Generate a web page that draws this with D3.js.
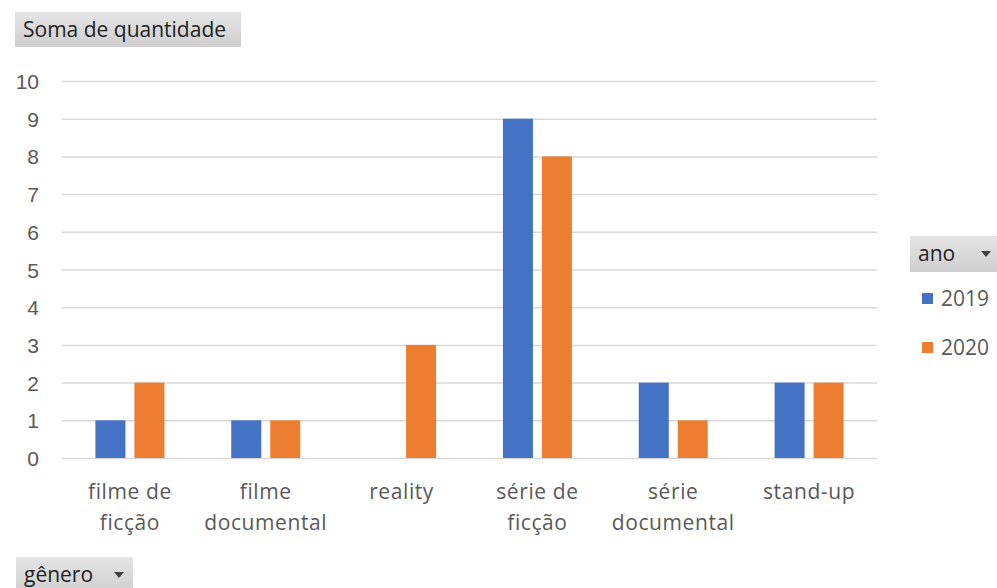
<!DOCTYPE html>
<html>
<head>
<meta charset="utf-8">
<script src="https://cdn.jsdelivr.net/npm/d3@7"></script>
<style>
	body { margin: 0; background: #fff; }
	svg { font-family: "Open Sans", "Noto Sans", sans-serif; }
	.tick text { fill: #595959; }
</style>
</head>
<body>
<svg id="chart"></svg>
<script>
// data
var categories = [['filme de', 'ficção'], ['filme', 'documental'], ['reality'], ['série de', 'ficção'], ['série', 'documental'], ['stand-up']];
var years = ['2019', '2020'];
var values2019 = [1, 1, null, 9, 2, 2];
var values2020 = [2, 1, 3, 8, 1, 2];
var yTicks = [0, 1, 2, 3, 4, 5, 6, 7, 8, 9, 10];

var colors = ['#4472C4', '#ED7D31'];

function makeChart() {
	let w = 997;
	let h = 588;

	let chart = d3.select('#chart')
		.attr('width', w)
		.attr('height', h);

	let defs = chart.append('defs');
	let grad = defs.append('linearGradient')
		.attr('id', 'btn')
		.attr('x1', 0).attr('y1', 0).attr('x2', 0).attr('y2', 1);
	grad.append('stop').attr('offset', '0%').attr('stop-color', '#e4e4e4');
	grad.append('stop').attr('offset', '100%').attr('stop-color', '#cfcfcf');

	let names = categories.map(c => c.join(' '));
	let series = [values2019, values2020];

	let x0 = d3.scaleBand()
		.domain(names)
		.range([62, 877]);

	let x1 = d3.scaleBand()
		.domain(years)
		.range([0, 69])
		.paddingInner(0.23);

	let y = d3.scaleLinear()
		.domain([0, 10])
		.range([458, 81]);

	// gridlines
	chart.append('g')
		.selectAll('line')
		.data(yTicks)
		.enter()
		.append('line')
		.attr('x1', 62)
		.attr('x2', 877)
		.attr('y1', d => y(d) + 0.5)
		.attr('y2', d => y(d) + 0.5)
		.style('stroke', '#d9d9d9')
		.style('stroke-width', 1.5);

	// y axis labels
	let yAxis = chart.append('g')
		.attr('transform', 'translate(39,0)')
		.call(d3.axisLeft(y).tickValues(yTicks).tickSize(0).tickPadding(0));
	yAxis.select('.domain').remove();
	yAxis.selectAll('text').style('font-size', '21px').attr('dy', '0.36em');

	// bars
	let groups = chart.append('g')
		.selectAll('g')
		.data(names)
		.enter()
		.append('g')
		.attr('transform', d => 'translate(' + (x0(d) + x0.bandwidth() / 2 - 34.5) + ',0)');

	groups.selectAll('rect')
		.data((d, i) => years.map((yr, j) => ({ yr: yr, v: series[j][i] })).filter(e => e.v != null))
		.enter()
		.append('rect')
		.attr('x', d => x1(d.yr))
		.attr('width', x1.bandwidth())
		.attr('y', d => y(d.v))
		.attr('height', d => y(0) - y(d.v))
		.style('fill', (d, i) => colors[years.indexOf(d.yr)]);

	// x labels
	let xl = chart.append('g')
		.selectAll('text')
		.data(categories)
		.enter()
		.append('text')
		.attr('x', (d, i) => x0(names[i]) + x0.bandwidth() / 2)
		.attr('y', 499)
		.style('text-anchor', 'middle')
		.style('font-size', '21px')
		.style('letter-spacing', '0.6px')
		.style('fill', '#595959');
	xl.selectAll('tspan')
		.data(d => d)
		.enter()
		.append('tspan')
		.attr('x', function () { return d3.select(this.parentNode).attr('x'); })
		.attr('dy', (d, i) => i === 0 ? 0 : 31)
		.text(d => d);

	// field buttons
	function button(x, y0, bw, bh, label, arrow) {
		let g = chart.append('g').attr('transform', 'translate(' + x + ',' + y0 + ')');
		g.append('rect')
			.attr('width', bw)
			.attr('height', bh)
			.style('fill', 'url(#btn)');
		g.append('text')
			.attr('x', 8)
			.attr('y', bh / 2 + 7)
			.style('font-size', '21px')
			.style('fill', '#222')
			.text(label);
		if (arrow) {
			g.append('path')
				.attr('d', 'M' + (bw - 19) + ',' + (bh / 2 - 3) + 'l10,0l-5,6z')
				.style('fill', '#404040');
		}
	}
	button(15, 12, 226, 35, 'Soma de quantidade', false);
	button(910, 236, 90, 36, 'ano', true);
	button(16, 557, 117, 36, 'gênero', true);

	// legend
	let leg = chart.append('g')
		.selectAll('g')
		.data(years)
		.enter()
		.append('g')
		.attr('transform', (d, i) => 'translate(922,' + (293 + i * 49) + ')');
	leg.append('rect')
		.attr('width', 11)
		.attr('height', 11)
		.style('fill', (d, i) => colors[i]);
	leg.append('text')
		.attr('x', 19)
		.attr('y', 13)
		.style('font-size', '21px')
		.style('fill', '#595959')
		.text(d => d);
}

window.onload = function () {
	makeChart();
}
</script>
</body>
</html>
